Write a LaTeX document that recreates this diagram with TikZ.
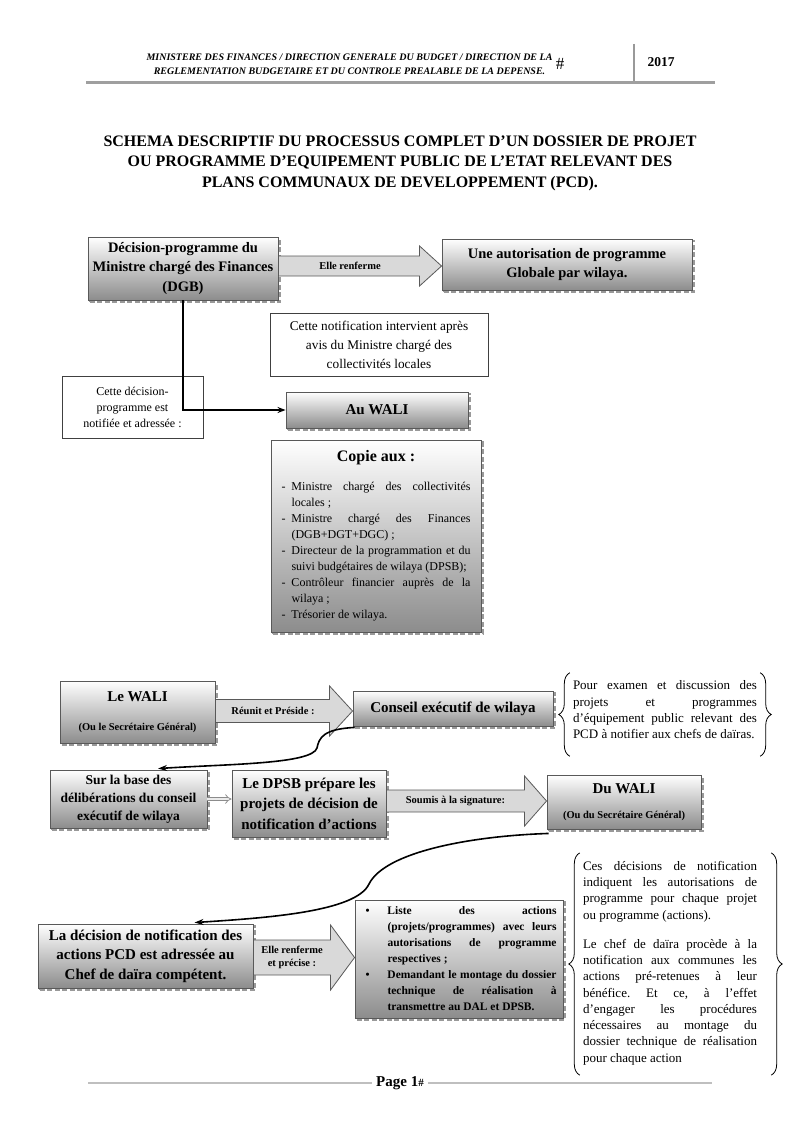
\documentclass[tikz,border=0pt]{standalone}
\usepackage{fontspec}
\setmainfont{Liberation Serif}
\usetikzlibrary{arrows.meta,calc,decorations.pathreplacing}
\frenchspacing
\newcommand{\dashItem}[1]{\hangindent=10pt\hangafter=1\noindent\makebox[10pt][l]{-}#1\par}
\newcommand{\bulletItem}[1]{\hangindent=26pt\hangafter=1\noindent\makebox[26pt][l]{\hspace{4pt}•}#1\par}
\begin{document}
\begin{tikzpicture}[x=1pt,y=-1pt,
    flowBox/.style={draw=black!65,line width=0.9pt,top color=white,bottom color=black!45,
        align=center,inner sep=3pt,font=\bfseries,
        preaction={draw=black!40,line width=2.2pt,dash pattern=on 5pt off 2.5pt,
            transform canvas={shift={(1.8pt,-2pt)}}}},
    noteBox/.style={draw=black!75,line width=0.7pt,fill=white,align=center,inner sep=3pt},
    flowArr/.style={draw=black!65,line width=0.8pt,fill=black!15},
    arrLbl/.style={font=\fontsize{10.5}{13}\selectfont\bfseries,align=center},
    mainLink/.style={-{Stealth[length=8pt,width=6pt]},line width=1.8pt},
    linkCurve/.style={-{Stealth[length=9pt,width=6pt]},line width=1.6pt},
    dblArr/.style={draw=black!45,double=black!8,double distance=2.5pt,line width=0.8pt,-{Implies}},
    noteBrace/.style={decorate,decoration={brace,amplitude=11pt},line width=0.8pt},
]
\useasboundingbox (0,0) rectangle (800,1132);
% Header
\node[font=\fontsize{10}{14}\selectfont\bfseries\itshape,align=center] (hdrTxt) at (349.5,64)
    {MINISTERE DES FINANCES / DIRECTION GENERALE DU BUDGET / DIRECTION DE LA\\
     REGLEMENTATION BUDGETAIRE ET DU CONTROLE PREALABLE DE LA DEPENSE.};
\node[font=\fontsize{17}{17}\selectfont,inner sep=0pt] (hdrHash) at (560,64) {\#};
\draw[gray!80,line width=2pt] (634,44) -- (634,82);
\node[font=\fontsize{13.5}{16}\selectfont\bfseries] (hdrYear) at (661,62) {2017};
\draw[gray!75,line width=2.5pt] (86,82.5) -- (715,82.5);
% Title
\node[font=\fontsize{16}{20.5}\selectfont\bfseries,align=center] (title) at (400,163)
    {SCHEMA DESCRIPTIF DU PROCESSUS COMPLET D’UN DOSSIER DE PROJET\\
     OU PROGRAMME D’EQUIPEMENT PUBLIC DE L’ETAT RELEVANT DES\\
     PLANS COMMUNAUX DE DEVELOPPEMENT (PCD).};
% Upper part
\node[flowBox,font=\fontsize{14.5}{19.5}\selectfont\bfseries,minimum width=190pt,minimum height=63pt] (decProg) at (183,268.5)
    {Décision-programme du\\Ministre chargé des Finances\\(DGB)};
\node[flowBox,font=\fontsize{14.5}{19.5}\selectfont\bfseries,minimum width=250pt,minimum height=51pt] (autGlob) at (567,264.5)
    {Une autorisation de programme\\Globale par wilaya.};
\coordinate (e1) at (decProg.east |- 0,266);
\coordinate (t1) at (autGlob.west |- 0,266);
\draw[flowArr] ($(e1)+(0,-10)$) -- ($(t1)+(-22,-10)$) -- ($(t1)+(-22,-20)$) -- (t1)
    -- ($(t1)+(-22,20)$) -- ($(t1)+(-22,10)$) -- ($(e1)+(0,10)$) -- cycle;
\node[arrLbl] (lbl1) at ($(e1)!0.5!(t1)+(-10,0)$) {Elle renferme};
\node[noteBox,font=\fontsize{13.3}{19}\selectfont,minimum width=218pt,minimum height=63pt] (notifAvis) at (379,344.5)
    {Cette notification intervient après\\avis du Ministre chargé des\\collectivités locales};
\node[noteBox,font=\fontsize{12}{16}\selectfont,minimum width=141pt,minimum height=62pt] (notifAdr) at (132.5,407)
    {Cette décision-\\programme est\\notifiée et adressée :};
\node[flowBox,font=\fontsize{15}{18}\selectfont\bfseries,minimum width=182pt,minimum height=36pt] (auWali) at (377,410) {Au WALI};
\draw[mainLink] (decProg.south) |- (auWali.west);
\node[flowBox,font=\fontsize{12}{16}\selectfont,text width=189pt,inner sep=0pt,align=justify,
    minimum width=210pt,minimum height=192pt] (copieAux) at (376,536)
    {{\centering\fontsize{16}{20}\selectfont\bfseries Copie aux :\par}\vspace{13pt}
     \dashItem{Ministre chargé des collectivités\linebreak locales ;}
     \dashItem{Ministre chargé des Finances\linebreak (DGB+DGT+DGC) ;}
     \dashItem{Directeur de la programmation et du\linebreak suivi budgétaires de wilaya (DPSB);}
     \dashItem{Contrôleur financier auprès de la\linebreak wilaya ;}
     \dashItem{Trésorier de wilaya.}};
% Lower part
\node[flowBox,minimum width=155pt,minimum height=62pt] (leWali) at (137.5,712)
    {{\fontsize{15}{18}\selectfont Le WALI}\\[17pt]{\fontsize{10.5}{12}\selectfont (Ou le Secrétaire Général)}};
\node[flowBox,font=\fontsize{15}{18}\selectfont\bfseries,minimum width=200pt,minimum height=35pt] (conseil) at (453,708.5)
    {Conseil exécutif de wilaya};
\coordinate (e2) at (leWali.east |- 0,711);
\coordinate (t2) at (conseil.west |- 0,711);
\draw[flowArr] ($(e2)+(0,-11.5)$) -- ($(t2)+(-23,-11.5)$) -- ($(t2)+(-23,-25)$) -- (t2)
    -- ($(t2)+(-23,25)$) -- ($(t2)+(-23,11.5)$) -- ($(e2)+(0,11.5)$) -- cycle;
\node[arrLbl] (lbl2) at ($(e2)!0.5!(t2)+(-11,0)$) {Réunit et Préside :};
\node[font=\fontsize{13}{16.3}\selectfont,text width=184pt,align=justify,inner sep=0pt] (pourExamen) at (665,710)
    {Pour examen et discussion des\linebreak projets et programmes\linebreak
     d’équipement public relevant des\linebreak PCD à notifier aux chefs de daïras.};
\draw[noteBrace] ($(pourExamen.south west)+(-3,17)$) -- ($(pourExamen.north west)+(-3,-8)$);
\draw[noteBrace] ($(pourExamen.north east)+(3,-8)$) -- ($(pourExamen.south east)+(3,17)$);
\node[flowBox,font=\fontsize{13.5}{18}\selectfont\bfseries,minimum width=157pt,minimum height=58pt] (surBase) at (128.5,799)
    {Sur la base des\\délibérations du conseil\\exécutif de wilaya};
\draw[linkCurve] ($(conseil.south west)+(2,1)$) .. controls (323,729) and (319,738) .. (317,748)
    .. controls (312,764) and (230,764) .. ($(surBase.north)+(29.5,-1)$);
\node[flowBox,font=\fontsize{15}{20.5}\selectfont\bfseries,minimum width=154pt,minimum height=67pt] (dpsb) at (309,803.5)
    {Le DPSB prépare les\\projets de décision de\\notification d’actions};
\draw[dblArr] (surBase.east) -- (dpsb.west |- surBase.east);
\node[flowBox,minimum width=154pt,minimum height=54pt] (duWali) at (624,802)
    {{\fontsize{15}{18}\selectfont Du WALI}\\[13pt]{\fontsize{10.5}{12}\selectfont (Ou du Secrétaire Général)}};
\coordinate (e3) at (dpsb.east |- 0,801);
\coordinate (t3) at (duWali.west |- 0,801);
\draw[flowArr] ($(e3)+(0,-11)$) -- ($(t3)+(-22,-11)$) -- ($(t3)+(-22,-25)$) -- (t3)
    -- ($(t3)+(-22,25)$) -- ($(t3)+(-22,11)$) -- ($(e3)+(0,11)$) -- cycle;
\node[arrLbl] (lbl3) at ($(e3)!0.5!(t3)+(-11,0)$) {Soumis à la signature:};
\node[flowBox,font=\fontsize{15}{19.5}\selectfont\bfseries,minimum width=215pt,minimum height=64pt] (laDecision) at (145.5,956)
    {La décision de notification des\\actions PCD est adressée au\\Chef de daïra compétent.};
\draw[linkCurve] ($(duWali.south west)+(2,4)$) .. controls (470,836) and (385,852) .. (369,884)
    .. controls (356,912) and (265,918) .. ($(laDecision.north)+(49,-1)$);
\node[flowBox,font=\fontsize{11.5}{16}\selectfont\bfseries,text width=195pt,inner sep=0pt,align=justify,
    minimum width=208pt,minimum height=118pt] (listeActions) at (459,959)
    {\bulletItem{Liste des actions\linebreak (projets/programmes) avec leurs\linebreak
        autorisations de programme\linebreak respectives ;}
     \bulletItem{Demandant le montage du dossier\linebreak technique de réalisation à\linebreak
        transmettre au DAL et DPSB.}};
\coordinate (e4) at (laDecision.east |- 0,957.5);
\coordinate (t4) at (listeActions.west |- 0,957.5);
\draw[flowArr] ($(e4)+(0,-17.5)$) -- ($(t4)+(-24,-17.5)$) -- ($(t4)+(-24,-32.5)$) -- (t4)
    -- ($(t4)+(-24,32.5)$) -- ($(t4)+(-24,17.5)$) -- ($(e4)+(0,17.5)$) -- cycle;
\node[arrLbl] (lbl4) at ($(e4)!0.5!(t4)+(-12,0)$) {Elle renferme\\et précise :};
\node[font=\fontsize{13}{16.3}\selectfont,text width=174pt,align=justify,inner sep=0pt] (cesDecisions) at (670,963)
    {Ces décisions de notification\linebreak indiquent les autorisations de\linebreak
     programme pour chaque projet\linebreak ou programme (actions).\par\vspace{12.7pt}
     Le chef de daïra procède à la\linebreak notification aux communes les\linebreak
     actions pré-retenues à leur\linebreak bénéfice. Et ce, à l’effet\linebreak
     d’engager les procédures\linebreak nécessaires au montage du\linebreak
     dossier technique de réalisation\linebreak pour chaque action};
\draw[noteBrace] ($(cesDecisions.south west)+(-3,10)$) -- ($(cesDecisions.north west)+(-3,-8)$);
\draw[noteBrace] ($(cesDecisions.north east)+(14,-8)$) -- ($(cesDecisions.south east)+(14,10)$);
% Footer
\node[inner sep=4pt] (pageNo) at (400,1083) {\fontsize{15}{18}\selectfont\bfseries Page 1{\fontsize{11}{12}\selectfont\#}};
\draw[black!25,line width=1.5pt] (88,1083) -- (pageNo.west);
\draw[black!25,line width=1.5pt] (pageNo.east) -- (712,1083);
\end{tikzpicture}
\end{document}
